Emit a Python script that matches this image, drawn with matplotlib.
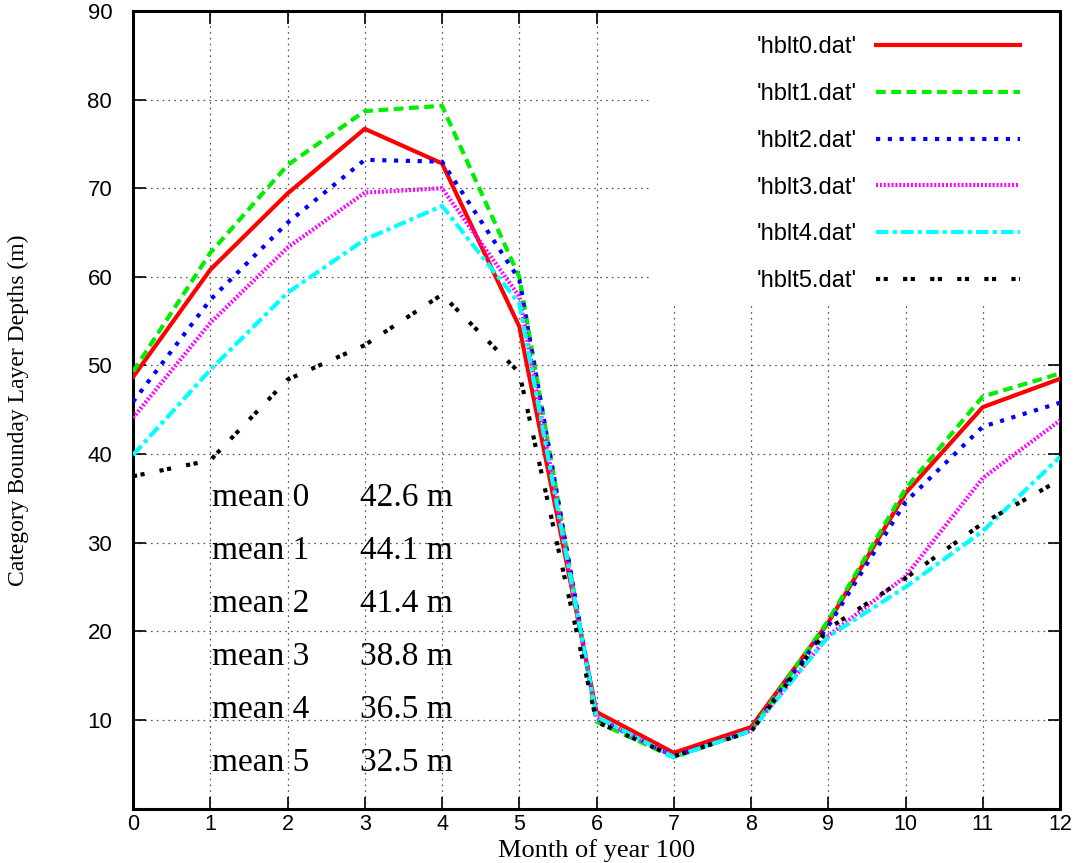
import matplotlib
matplotlib.use('Agg')
import matplotlib.pyplot as plt
from matplotlib.patches import Rectangle

plt.rcParams['lines.scale_dashes'] = False

months = list(range(13))
hblt0 = [48.7, 60.8, 69.4, 76.7, 72.8, 54.4, 10.9, 6.3, 9.2, 21.0, 35.6, 45.3, 48.5]
hblt1 = [49.3, 62.7, 72.6, 78.7, 79.3, 60.0, 9.8, 5.8, 8.8, 21.2, 36.1, 46.5, 49.1]
hblt2 = [45.9, 57.4, 66.1, 73.2, 73.0, 59.7, 10.2, 5.9, 8.8, 20.6, 34.6, 43.1, 45.8]
hblt3 = [44.1, 54.8, 63.3, 69.5, 70.0, 57.8, 10.3, 5.9, 8.8, 19.5, 26.2, 37.3, 43.8]
hblt4 = [39.9, 49.5, 58.2, 64.2, 68.0, 57.0, 10.4, 5.8, 8.8, 19.4, 25.0, 31.3, 39.7]
hblt5 = [37.5, 39.3, 48.4, 52.3, 58.0, 49.2, 9.8, 5.9, 8.7, 20.3, 26.0, 32.2, 37.1]
series = [hblt0, hblt1, hblt2, hblt3, hblt4, hblt5]
labels = ["'hblt0.dat'", "'hblt1.dat'", "'hblt2.dat'", "'hblt3.dat'", "'hblt4.dat'", "'hblt5.dat'"]
means = [42.6, 44.1, 41.4, 38.8, 36.5, 32.5]

colors = ['#ff0000', '#00ee00', '#0000ff', '#ff00ff', '#00ffff', '#000000']
# dash patterns in points
styles = ['-', (0, (7, 4)), (0, (3, 5.5)), (0, (1.4, 1.4)), (0, (9, 3, 3, 3)), (0, (3, 2.5, 3, 11))]

fig = plt.figure(figsize=(10.83, 8.63), dpi=100)
ax = fig.add_axes([0.1228, 0.063, 0.856, 0.9243])

for s, lab, c, ls in zip(series, labels, colors, styles):
    ax.plot(months, s, color=c, linestyle=ls, linewidth=3.0, label=lab, zorder=3)

ax.set_xlim(0, 12)
ax.set_ylim(0, 90)
ax.set_xticks(months)
ax.set_yticks(range(10, 100, 10))
ax.grid(True, color='#555555', linestyle=(0, (1.2, 3)), linewidth=0.9)

# blank area behind the key, like gnuplot
ax.add_patch(Rectangle((0.558, 0.63), 0.442, 0.37, transform=ax.transAxes,
                       facecolor='white', edgecolor='none', zorder=2))

for sp in ax.spines.values():
    sp.set_linewidth(2.2)
ax.tick_params(direction='in', top=True, right=True, length=9, width=1.2,
               labelsize=16, labelfontfamily='Liberation Sans')
ax.tick_params(axis='y', pad=15)
ax.tick_params(axis='x', labelsize=15.5, pad=4)

ax.set_xlabel('Month of year 100', family='Liberation Serif', fontsize=19, va='bottom')
ax.xaxis.set_label_coords(0.5, -0.0675)
ax.set_ylabel('Category Bounday Layer Depths (m)', family='Liberation Serif', fontsize=17, va='center')
ax.yaxis.set_label_coords(-0.124, 0.5)

for i, m in enumerate(means):
    yy = 0.39 - i * 0.0665
    ax.text(0.085, yy, 'mean %d' % i, transform=ax.transAxes, family='Liberation Serif',
            fontsize=24, va='center', ha='left', zorder=4)
    ax.text(0.245, yy, '%.1f m' % m, transform=ax.transAxes, family='Liberation Serif',
            fontsize=24, va='center', ha='left', zorder=4)

leg = ax.legend(loc='upper right', bbox_to_anchor=(0.977, 0.992), frameon=False,
                markerfirst=False, handlelength=6.1, labelspacing=1.05, handletextpad=0.8,
                borderpad=0.3, prop={'family': 'Liberation Sans', 'size': 17})
leg.set_zorder(5)

fig.savefig('out.png', dpi=100)
